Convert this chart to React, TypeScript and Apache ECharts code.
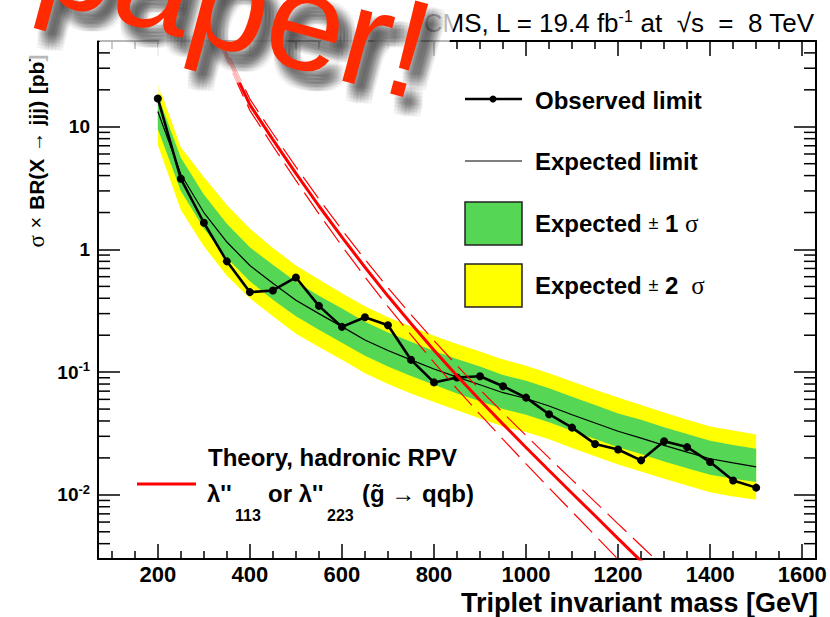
import React, { useEffect, useRef } from 'react';
import * as echarts from 'echarts';

// ---------------- data ----------------
const masses = [200, 250, 300, 350, 400, 450, 500, 550, 600, 650, 700, 750, 800, 850, 900, 950, 1000, 1050, 1100, 1150, 1200, 1250, 1300, 1350, 1400, 1450, 1500];
const observed = [17.0, 3.77, 1.65, 0.8, 0.449, 0.463, 0.591, 0.347, 0.234, 0.28, 0.241, 0.126, 0.0825, 0.0904, 0.0925, 0.0768, 0.062, 0.0454, 0.0353, 0.026, 0.0234, 0.0191, 0.0273, 0.0245, 0.0185, 0.0131, 0.01145];
const expected = [13.3, 4.1, 2.0, 1.15, 0.74, 0.53, 0.385, 0.3, 0.235, 0.183, 0.15, 0.126, 0.106, 0.091, 0.079, 0.068, 0.061, 0.053, 0.045, 0.0385, 0.033, 0.029, 0.0253, 0.0223, 0.0197, 0.0182, 0.0169];
const plus1 = [18.0, 5.6, 2.8, 1.62, 1.04, 0.75, 0.545, 0.42, 0.33, 0.258, 0.21, 0.177, 0.149, 0.128, 0.111, 0.095, 0.085, 0.074, 0.063, 0.054, 0.046, 0.041, 0.0355, 0.0313, 0.0276, 0.0255, 0.0238];
const minus1 = [9.6, 3.0, 1.48, 0.85, 0.55, 0.39, 0.285, 0.222, 0.174, 0.136, 0.111, 0.093, 0.079, 0.067, 0.058, 0.05, 0.045, 0.039, 0.0333, 0.0285, 0.0244, 0.0215, 0.0187, 0.0165, 0.0146, 0.0135, 0.0127];
const plus2 = [22.6, 6.8, 3.9, 2.3, 1.48, 1.03, 0.74, 0.57, 0.44, 0.345, 0.28, 0.235, 0.198, 0.17, 0.147, 0.127, 0.113, 0.098, 0.084, 0.072, 0.062, 0.054, 0.047, 0.041, 0.036, 0.0335, 0.0311];
const minus2 = [7.1, 2.1, 1.06, 0.61, 0.4, 0.285, 0.206, 0.16, 0.126, 0.098, 0.08, 0.067, 0.057, 0.049, 0.042, 0.036, 0.0326, 0.0284, 0.0241, 0.0206, 0.0177, 0.0155, 0.0135, 0.0119, 0.0105, 0.0097, 0.0091];

const theoryMasses = [300, 350, 400, 450, 500, 550, 600, 650, 700, 750, 800, 850, 900, 950, 1000, 1050, 1100, 1150, 1200, 1250, 1300, 1350];
const theoryCentral = [112, 38, 15.1, 7.85, 4.17, 2.26, 1.26, 0.716, 0.417, 0.249, 0.151, 0.0935, 0.059, 0.0377, 0.0243, 0.0158, 0.0103, 0.00675, 0.0044, 0.00288, 0.00188, 0.00123];
const theoryUp = [123, 41.7, 16.8, 8.81, 4.71, 2.58, 1.445, 0.83, 0.488, 0.294, 0.181, 0.113, 0.0721, 0.0466, 0.0304, 0.02, 0.01324, 0.00877, 0.0058, 0.00385, 0.00255, 0.0017];
const theoryDown = [91.2, 34.7, 13.6, 6.97, 3.65, 1.95, 1.067, 0.597, 0.342, 0.201, 0.12, 0.073, 0.0452, 0.0283, 0.0179, 0.0114, 0.0073, 0.00467, 0.00298, 0.0019, 0.00123, 0.0008];

const xLabelValues = [200, 400, 600, 800, 1000, 1200, 1400, 1600];
const yMinorTickValues = [0.004, 0.005, 0.006, 0.007, 0.008, 0.009, 0.02, 0.03, 0.04, 0.05, 0.06, 0.07, 0.08, 0.09, 0.2, 0.3, 0.4, 0.5, 0.6, 0.7, 0.8, 0.9, 2, 3, 4, 5, 6, 7, 8, 9, 20, 30, 40];

const X_MIN = 70;
const X_MAX = 1630;
const Y_MIN = 0.003;
const Y_MAX = 50;

const FONT = '"Liberation Sans", Arial, Helvetica, sans-serif';
const SERIF = '"Liberation Serif", "DejaVu Serif", serif';
const GREEN = '#55d655';
const YELLOW = '#ffff00';
const RED = '#ff0000';

const pairs = (xs: number[], ys: number[]) => xs.map((x, i) => [x, ys[i]]);

function bandSeries(upper: number[], lower: number[], color: string) {
  return {
    type: 'custom',
    coordinateSystem: 'cartesian2d',
    silent: true,
    clip: true,
    z: 1,
    data: [[masses[0], upper[0]]],
    encode: { x: 0, y: 1 },
    renderItem: (_p: any, api: any) => {
      const pts: number[][] = [];
      masses.forEach((m, i) => pts.push(api.coord([m, upper[i]])));
      for (let i = masses.length - 1; i >= 0; i--) pts.push(api.coord([masses[i], lower[i]]));
      return { type: 'polygon', shape: { points: pts }, style: { fill: color, stroke: null } };
    },
  };
}

function xAxisCfg(position: 'bottom' | 'top') {
  return {
    type: 'value',
    min: X_MIN,
    max: X_MAX,
    splitNumber: 8,
    position,
    axisLine: { show: true, onZero: false, lineStyle: { color: '#000', width: 2 } },
    axisTick: { show: true, inside: true, length: 15, lineStyle: { color: '#000', width: 1.5 } },
    minorTick: { show: true, splitNumber: 4, length: 8, lineStyle: { color: '#000', width: 1.5 } },
    splitLine: { show: false },
    minorSplitLine: { show: false },
    axisLabel: {
      show: position === 'bottom',
      margin: 4,
      formatter: (v: number) => (xLabelValues.indexOf(v) >= 0 ? String(v) : ''),
      fontFamily: FONT,
      fontWeight: 'bold',
      fontSize: 22,
      color: '#000',
    },
  };
}

function yAxisCfg(position: 'left' | 'right') {
  return {
    type: 'log',
    logBase: 10,
    min: Y_MIN,
    max: Y_MAX,
    position,
    axisLine: { show: true, onZero: false, lineStyle: { color: '#000', width: 2 } },
    axisTick: { show: true, inside: true, length: 22, lineStyle: { color: '#000', width: 1.5 } },
    minorTick: { show: false },
    splitLine: { show: false },
    axisLabel: {
      show: position === 'left',
      margin: 8,
      fontFamily: FONT,
      fontWeight: 'bold',
      fontSize: 19,
      color: '#000',
      formatter: (v: number) => {
        const l = Math.log10(v);
        const e = Math.round(l);
        if (Math.abs(l - e) > 1e-6) return '';
        if (e === 1) return '10';
        if (e === 0) return '1';
        if (e < 0) return `{n|10}{s|${e}}`;
        return '';
      },
      rich: {
        n: { fontFamily: FONT, fontWeight: 'bold', fontSize: 19, color: '#000' },
        s: { fontFamily: FONT, fontWeight: 'bold', fontSize: 13, color: '#000', padding: [0, 0, 11, 0] },
      },
    },
  };
}

const legendText = (x: number, y: number, text: string, rich?: any) => ({
  type: 'text',
  x,
  y,
  z: 10,
  style: {
    text,
    fill: '#000',
    font: `bold 24px ${FONT}`,
    align: 'left',
    verticalAlign: 'middle',
    rich,
  },
});

// "paper!" sticker geometry
const PAPER_FS = 140;
const PAPER_X = 32;
const PAPER_Y = -2;
const PAPER_ROT = -0.262;

const paperText = (dx: number, dy: number, z: number, style: any) => ({
  type: 'text',
  x: PAPER_X + dx,
  y: PAPER_Y + dy,
  rotation: PAPER_ROT,
  z,
  silent: true,
  style: {
    text: 'paper!',
    font: `normal ${PAPER_FS}px ${FONT}`,
    x: 0,
    y: -0.35 * PAPER_FS,
    align: 'left',
    verticalAlign: 'middle',
    ...style,
  },
});

// soft drop shadow: a small grid of faint offset copies
const shadowOffsets = [-7, -3.5, 0, 3.5, 7];
const shadowCopies: any[] = [];
shadowOffsets.forEach((ox) =>
  shadowOffsets.forEach((oy) =>
    shadowCopies.push(paperText(10 + ox, 13 + oy, 101, { fill: 'rgba(0,0,0,0.045)' }))
  )
);

const graphics: any[] = [
  // CMS header
  {
    type: 'text',
    x: 814,
    y: 23,
    z: 10,
    style: {
      text: '{a|CMS, L = 19.4 fb}{s|-1}{a| at  √s  =  8 TeV}',
      align: 'right',
      verticalAlign: 'middle',
      rich: {
        a: { fontFamily: FONT, fontSize: 26, fill: '#000' },
        s: { fontFamily: FONT, fontSize: 16, fill: '#000', padding: [0, 0, 13, 0] },
      },
    },
  },
  // axis titles
  {
    type: 'text',
    x: 818,
    y: 603,
    z: 10,
    style: { text: 'Triplet invariant mass [GeV]', font: `bold 27px ${FONT}`, fill: '#000', align: 'right', verticalAlign: 'middle' },
  },
  {
    type: 'text',
    x: 36,
    y: 151,
    rotation: Math.PI / 2,
    z: 10,
    style: {
      text: '{g|σ}  {r|×}  {b|BR(X}  {r|→}  {b|jjj)}  {b|[pb]}',
      align: 'center',
      verticalAlign: 'middle',
      rich: {
        g: { fontFamily: SERIF, fontSize: 23, fill: '#000' },
        r: { fontFamily: FONT, fontSize: 20, fill: '#000' },
        b: { fontFamily: FONT, fontWeight: 'bold', fontSize: 21, fill: '#000' },
      },
    },
  },
  // legend
  { type: 'line', z: 10, shape: { x1: 465, y1: 99, x2: 522, y2: 99 }, style: { stroke: '#000', lineWidth: 2.5 } },
  { type: 'circle', z: 10, shape: { cx: 493, cy: 99, r: 3.5 }, style: { fill: '#000' } },
  legendText(535, 100, 'Observed limit'),
  { type: 'line', z: 10, shape: { x1: 465, y1: 161, x2: 522, y2: 161 }, style: { stroke: '#000', lineWidth: 1.2 } },
  legendText(535, 161, 'Expected limit'),
  { type: 'rect', z: 10, shape: { x: 465, y: 202, width: 57, height: 43 }, style: { fill: GREEN, stroke: '#222', lineWidth: 1.5 } },
  legendText(535, 223, '{b|Expected} {r|±} {b|1} {g|σ}', {
    b: { fontFamily: FONT, fontWeight: 'bold', fontSize: 24, fill: '#000' },
    r: { fontFamily: FONT, fontSize: 18, fill: '#000' },
    g: { fontFamily: SERIF, fontSize: 25, fill: '#000' },
  }),
  { type: 'rect', z: 10, shape: { x: 465, y: 264, width: 57, height: 43 }, style: { fill: YELLOW, stroke: '#222', lineWidth: 1.5 } },
  legendText(535, 285, '{b|Expected} {r|±} {b|2} {g| σ}', {
    b: { fontFamily: FONT, fontWeight: 'bold', fontSize: 24, fill: '#000' },
    r: { fontFamily: FONT, fontSize: 18, fill: '#000' },
    g: { fontFamily: SERIF, fontSize: 25, fill: '#000' },
  }),
  // theory legend
  legendText(208, 457, 'Theory, hadronic RPV'),
  { type: 'line', z: 10, shape: { x1: 137, y1: 484, x2: 196, y2: 484 }, style: { stroke: RED, lineWidth: 3 } },
  legendText(207, 493, "λ''"),
  { type: 'text', x: 235, y: 515, z: 10, style: { text: '113', font: `bold 16px ${FONT}`, fill: '#000', verticalAlign: 'middle' } },
  legendText(268, 493, "or λ''"),
  { type: 'text', x: 327, y: 515, z: 10, style: { text: '223', font: `bold 16px ${FONT}`, fill: '#000', verticalAlign: 'middle' } },
  legendText(362, 493, '(g̃ → qqb)'),
  // "paper!" sticker: white halo fading the plot underneath, soft grey shadow, red text
  paperText(0, 0, 100, {
    fill: '#ffffff',
    stroke: '#ffffff',
    lineWidth: 62,
    lineJoin: 'round',
    opacity: 0.72,
  }),
  ...shadowCopies,
  paperText(0, 0, 102, { fill: '#ff2a00' }),
];

const option: any = {
  animation: false,
  backgroundColor: '#ffffff',
  grid: { left: 98, top: 41, width: 718, height: 518, containLabel: false },
  xAxis: [xAxisCfg('bottom'), xAxisCfg('top')],
  yAxis: [yAxisCfg('left'), yAxisCfg('right')],
  series: [
    bandSeries(plus2, minus2, YELLOW),
    bandSeries(plus1, minus1, GREEN),
    {
      name: 'Expected limit',
      type: 'line',
      data: pairs(masses, expected),
      showSymbol: false,
      symbol: 'none',
      lineStyle: { color: '#000', width: 1.2 },
      z: 3,
    },
    {
      name: 'Observed limit',
      type: 'line',
      data: pairs(masses, observed),
      symbol: 'circle',
      symbolSize: 8,
      itemStyle: { color: '#000' },
      lineStyle: { color: '#000', width: 2.6 },
      z: 4,
    },
    {
      name: 'Theory',
      type: 'line',
      data: pairs(theoryMasses, theoryCentral),
      symbol: 'none',
      lineStyle: { color: RED, width: 3 },
      z: 5,
    },
    {
      name: 'Theory up',
      type: 'line',
      data: pairs(theoryMasses, theoryUp),
      symbol: 'none',
      lineStyle: { color: RED, width: 1.2, type: [26, 9] },
      z: 5,
    },
    {
      name: 'Theory down',
      type: 'line',
      data: pairs(theoryMasses, theoryDown),
      symbol: 'none',
      lineStyle: { color: RED, width: 1.2, type: [26, 9] },
      z: 5,
    },
    {
      name: 'y minor ticks',
      type: 'custom',
      coordinateSystem: 'cartesian2d',
      silent: true,
      clip: false,
      z: 6,
      data: yMinorTickValues.map((v) => [X_MIN, v]),
      encode: { x: 0, y: 1 },
      renderItem: (_p: any, api: any) => {
        const v = api.value(1);
        const l = api.coord([X_MIN, v]);
        const r = api.coord([X_MAX, v]);
        return {
          type: 'group',
          children: [
            { type: 'line', shape: { x1: l[0], y1: l[1], x2: l[0] + 12, y2: l[1] }, style: { stroke: '#000', lineWidth: 1.5 } },
            { type: 'line', shape: { x1: r[0] - 12, y1: r[1], x2: r[0], y2: r[1] }, style: { stroke: '#000', lineWidth: 1.5 } },
          ],
        };
      },
    },
  ],
  graphic: graphics,
};

export default function App() {
  const ref = useRef<HTMLDivElement>(null);
  useEffect(() => {
    document.body.style.margin = '0';
    const chart = echarts.init(ref.current as HTMLDivElement, null, { renderer: 'svg' });
    chart.setOption(option);
    return () => chart.dispose();
  }, []);
  return (
    <div
      ref={ref}
      style={{ position: 'absolute', left: 0, top: 0, width: 830, height: 617, background: '#fff' }}
    />
  );
}
